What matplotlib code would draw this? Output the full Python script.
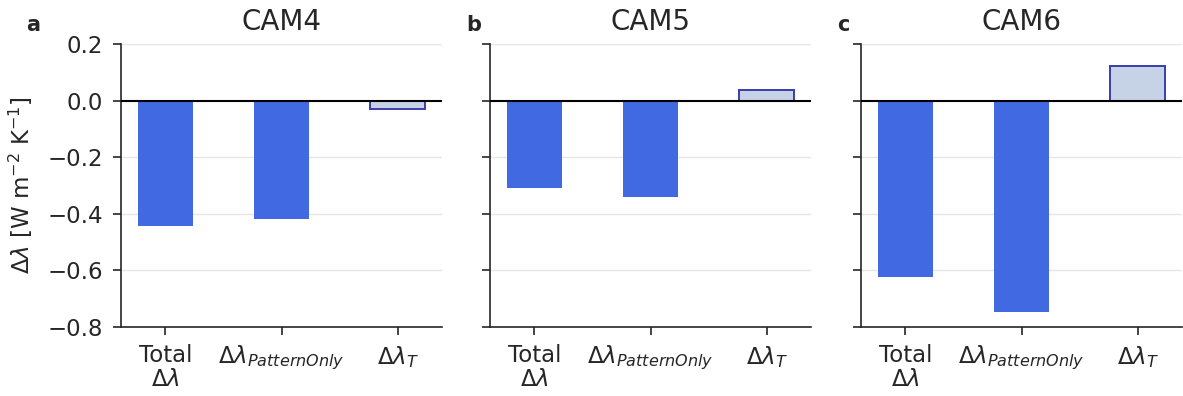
import numpy as np
import matplotlib
matplotlib.use("Agg")
import matplotlib.pyplot as plt

# Feedback-parameter changes for each model version
models = ["CAM4", "CAM5", "CAM6"]
panel_letters = ["a", "b", "c"]
categories = ["Total\n$\\Delta\\lambda$", "$\\Delta\\lambda_{PatternOnly}$", "$\\Delta\\lambda_{T}$"]
cam4_values = [-0.443, -0.417, -0.028]
cam5_values = [-0.309, -0.342, 0.039]
cam6_values = [-0.623, -0.747, 0.121]
all_values = [cam4_values, cam5_values, cam6_values]

yticks = [0.2, 0.0, -0.2, -0.4, -0.6, -0.8]

main_color = "#4169e1"
temp_fill = "#c6d3e6"
temp_edge = "#3c3cae"
text_color = "#262626"

fig = plt.figure(figsize=(11.83, 3.96), dpi=100)
W, H = 1183, 396
lefts = [121, 490, 861]
letter_x = [33, 474, 843]
width_px = 321
top_px, bottom_px = 44, 327

x = np.arange(len(categories))
for i, (model, letter, vals) in enumerate(zip(models, panel_letters, all_values)):
    ax = fig.add_axes([lefts[i] / W, 1 - bottom_px / H, width_px / W, (bottom_px - top_px) / H])
    ax.set_axisbelow(True)
    ax.yaxis.grid(True, color="#e6e6e6", linewidth=1.0)
    ax.bar(x[:2], vals[:2], width=0.47, color=main_color, zorder=2)
    ax.bar(x[2:], vals[2:], width=0.47, color=temp_fill, edgecolor=temp_edge,
           linewidth=1.4, zorder=2)
    ax.axhline(0, color="black", linewidth=1.5, zorder=3)
    ax.set_xlim(-0.38, 2.38)
    ax.set_ylim(-0.8, 0.2)
    ax.set_yticks(yticks)
    ax.set_xticks(x)
    ax.set_xticklabels(categories, fontsize=16.5, color=text_color, linespacing=1.1)
    ax.tick_params(axis="both", length=6, width=1.2, color=text_color, labelsize=16.5,
                   labelcolor=text_color)
    ax.tick_params(axis="y", pad=7)
    ax.tick_params(axis="x", pad=6)
    if i == 0:
        ax.set_yticklabels([f"{t:.1f}".replace("-", "\u2212") for t in yticks])
        ax.set_ylabel("$\\Delta\\lambda$ [W m$^{-2}$ K$^{-1}$]", fontsize=16.5,
                      color=text_color, va="center")
        ax.yaxis.set_label_coords((21 - lefts[i]) / width_px, 0.5)
    else:
        ax.set_yticklabels([])
    for side in ("top", "right"):
        ax.spines[side].set_visible(False)
    for side in ("left", "bottom"):
        ax.spines[side].set_linewidth(1.2)
        ax.spines[side].set_color(text_color)
    ax.set_title(model, fontsize=20, color=text_color, pad=10)
    fig.text(letter_x[i] / W, 1 - 25 / H, letter,
             fontsize=15, fontweight="bold", color=text_color, ha="center", va="center")

fig.savefig("out.png", dpi=100)
